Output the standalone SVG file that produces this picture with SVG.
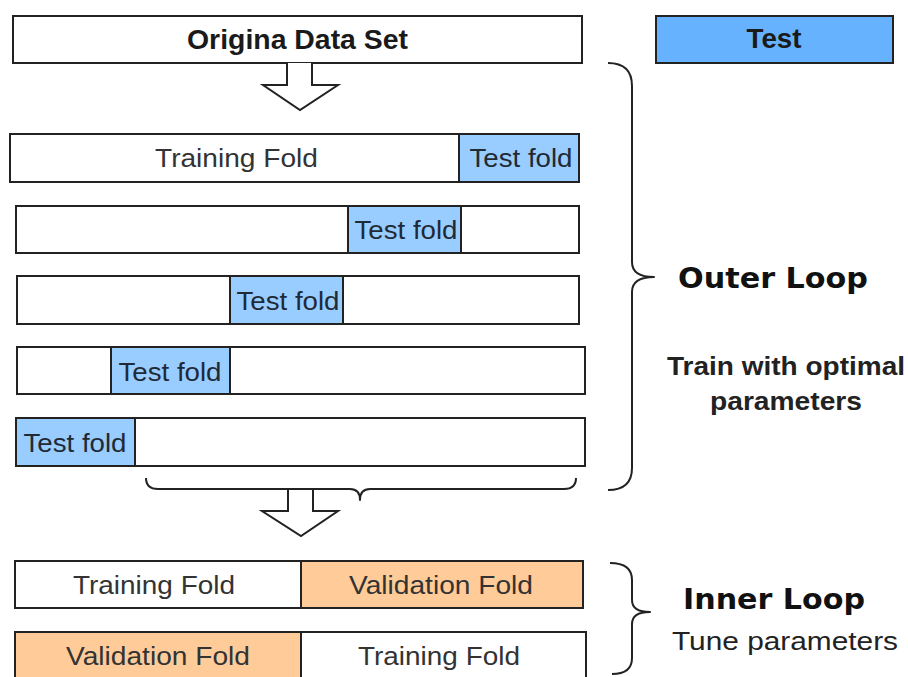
<svg xmlns="http://www.w3.org/2000/svg" width="908" height="677" viewBox="0 0 908 677">
<style>
.box{fill:#ffffff;stroke:#222222;stroke-width:2}
.tf{fill:#99ccff;stroke:#222222;stroke-width:2}
.vf{fill:#ffcc99;stroke:#222222;stroke-width:2}
.big{font-family:"Liberation Sans",Arial,sans-serif;font-size:27px;font-weight:bold;fill:#1a1a1a;text-anchor:middle}
.lbl{font-family:"Liberation Sans",Arial,sans-serif;font-size:26px;fill:#333333;text-anchor:middle}
.tl{font-family:"Liberation Sans",Arial,sans-serif;font-size:26px;fill:#1f2a36;text-anchor:middle}
.loop{font-family:"DejaVu Sans",sans-serif;font-size:29px;font-weight:bold;fill:#111111;text-anchor:middle}
.note{font-family:"Liberation Sans",Arial,sans-serif;font-size:26px;font-weight:bold;fill:#222222;text-anchor:middle}
.note2{font-family:"Liberation Sans",Arial,sans-serif;font-size:26px;fill:#222222;text-anchor:middle}
.conn{fill:none;stroke:#222222;stroke-width:2;stroke-linejoin:round}
.arrow{fill:#ffffff;stroke:#222222;stroke-width:2;stroke-linejoin:miter}
</style>
<rect x="0" y="0" width="908" height="677" fill="#ffffff"/>

<g id="original">
<rect class="box" x="13" y="16" width="569" height="47"/>
<text class="big" x="297.5" y="49" textLength="221" lengthAdjust="spacingAndGlyphs">Origina Data Set</text>
</g>

<g id="test-legend">
<rect x="656" y="16" width="237" height="47" fill="#66b2ff" stroke="#222222" stroke-width="2"/>
<text class="big" x="774" y="48" textLength="55" lengthAdjust="spacingAndGlyphs">Test</text>
</g>

<g id="outer-fold-1">
<rect class="box" x="10" y="134" width="569" height="48"/>
<rect class="tf" x="459" y="134" width="120" height="48"/>
<text class="lbl" x="236.5" y="167" textLength="163" lengthAdjust="spacingAndGlyphs">Training Fold</text>
<text class="tl" x="521" y="167" textLength="103" lengthAdjust="spacingAndGlyphs">Test fold</text>
</g>

<g id="outer-fold-2">
<rect class="box" x="16" y="206" width="563" height="47"/>
<rect class="tf" x="348" y="206" width="113" height="47"/>
<text class="tl" x="406" y="239" textLength="103" lengthAdjust="spacingAndGlyphs">Test fold</text>
</g>

<g id="outer-fold-3">
<rect class="box" x="17" y="276" width="562" height="48"/>
<rect class="tf" x="230" y="276" width="113" height="48"/>
<text class="tl" x="288" y="310" textLength="103" lengthAdjust="spacingAndGlyphs">Test fold</text>
</g>

<g id="outer-fold-4">
<rect class="box" x="17" y="347" width="568" height="47"/>
<rect class="tf" x="111" y="347" width="119" height="47"/>
<text class="tl" x="170" y="381" textLength="103" lengthAdjust="spacingAndGlyphs">Test fold</text>
</g>

<g id="outer-fold-5">
<rect class="box" x="16" y="418" width="569" height="48"/>
<rect class="tf" x="16" y="418" width="119" height="48"/>
<text class="tl" x="75" y="452" textLength="103" lengthAdjust="spacingAndGlyphs">Test fold</text>
</g>

<g id="inner-fold-1">
<rect class="box" x="15" y="561" width="286" height="47"/>
<rect class="vf" x="301" y="561" width="282" height="47"/>
<text class="lbl" x="154" y="594" textLength="162" lengthAdjust="spacingAndGlyphs">Training Fold</text>
<text class="lbl" x="441" y="594" textLength="184" lengthAdjust="spacingAndGlyphs">Validation Fold</text>
</g>

<g id="inner-fold-2">
<rect class="vf" x="15" y="632" width="286" height="50"/>
<rect class="box" x="301" y="632" width="285" height="50"/>
<text class="lbl" x="158" y="665" textLength="184" lengthAdjust="spacingAndGlyphs">Validation Fold</text>
<text class="lbl" x="439" y="665" textLength="162" lengthAdjust="spacingAndGlyphs">Training Fold</text>
</g>

<g id="outer-loop-label">
<text class="loop" x="773" y="288" textLength="190" lengthAdjust="spacingAndGlyphs">Outer Loop</text>
<text class="note" x="786" y="375" textLength="238" lengthAdjust="spacingAndGlyphs">Train with optimal</text>
<text class="note" x="786" y="410" textLength="152" lengthAdjust="spacingAndGlyphs">parameters</text>
</g>

<g id="inner-loop-label">
<text class="loop" x="774" y="609" textLength="182" lengthAdjust="spacingAndGlyphs">Inner Loop</text>
<text class="note2" x="785" y="650" textLength="226" lengthAdjust="spacingAndGlyphs">Tune parameters</text>
</g>

<g id="connectors">
<path class="arrow" d="M287,63 L287,85 L263,85 L300,110 L338,85 L312,85 L312,63"/>
<path class="arrow" d="M288,489 L288,511 L262,511 L301,536 L338,511 L313,511 L313,489"/>
<path class="conn" d="M608,63 Q632,63 632,86 L632,262 Q632,277 654,277 Q632,277 632,292 L632,468 Q632,490 608,490"/>
<path class="conn" d="M146,478 Q146,489 158,489 L350,489 Q360,489 360,500 Q360,489 370,489 L564,489 Q576,489 576,478"/>
<path class="conn" d="M610,563 Q632,563 632,580 L632,600 Q632,612 650,612 Q632,612 632,624 L632,658 Q632,674 612,674"/>
</g>
</svg>
